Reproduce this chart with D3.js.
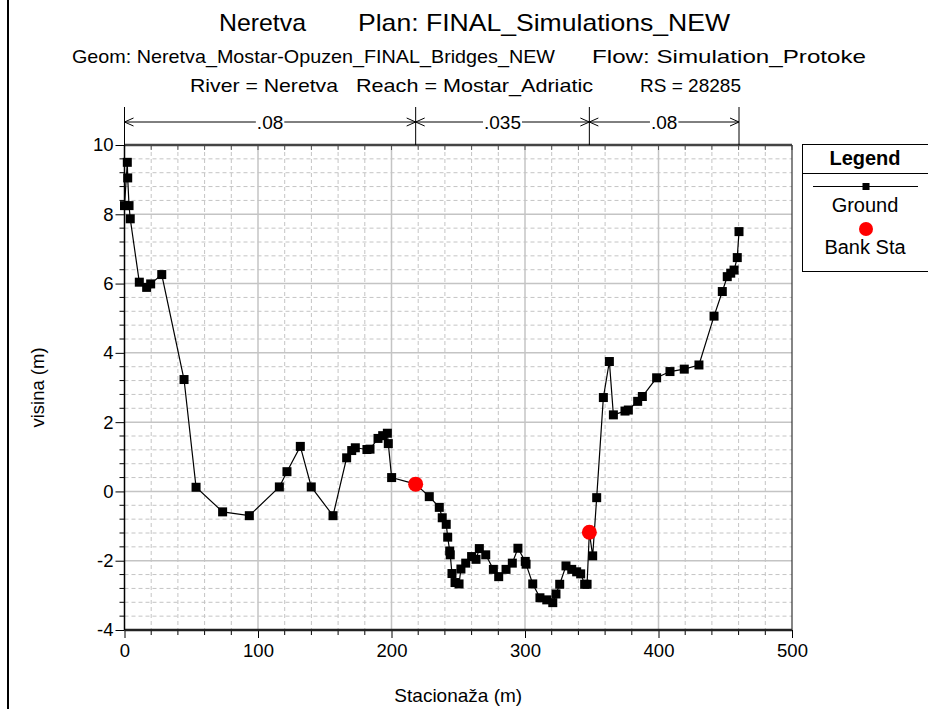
<!DOCTYPE html>
<html>
<head>
<meta charset="utf-8">
<script src="https://cdn.jsdelivr.net/npm/d3@7"></script>
<style>
  body { margin: 0; background: #fff; }
  text { font-family: "Liberation Sans", Arial, sans-serif; fill: #000; }
</style>
</head>
<body>
<svg id="chart"></svg>
<script>
// SVG size params
var width = 928;
var height = 709;

// Ground profile (station m, elevation m)
var stations = [0, 2.1, 2.4, 3.4, 4.3, 11.1, 16.6, 19.6, 27.9, 44.6, 53.6, 73.5, 93.5, 116, 121.7,
  131.7, 139.9, 156.2, 166.4, 170.2, 172.9, 181.6, 183.9, 189.9, 193.4, 196.9, 197.6, 200.1, 218.1,
  228.3, 235.8, 238, 241, 242.1, 243.6, 244, 245.3, 247.6, 250.6, 252, 255.6, 260, 263.3, 265.8,
  270.6, 276.3, 280.3, 285.8, 290.5, 294.7, 300.2, 300.8, 305.8, 311.2, 316.3, 320.8, 323.2, 326,
  330.7, 335, 338.7, 341.7, 344.7, 346.5, 348.2, 350.7, 353.7, 358.7, 363.2, 366.2, 374.9, 377.4,
  384.4, 387.9, 398.6, 408.6, 419.3, 430.3, 441.6, 447.8, 451.5, 454.1, 456.6, 459, 460.3];
var elevations = [8.25, 9.5, 9.05, 8.25, 7.87, 6.04, 5.89, 5.99, 6.26, 3.23, 0.12, -0.59, -0.70, 0.13, 0.57,
  1.30, 0.13, -0.70, 0.97, 1.18, 1.26, 1.21, 1.22, 1.53, 1.61, 1.68, 1.38, 0.40, 0.21,
  -0.15, -0.46, -0.76, -0.95, -1.32, -1.72, -1.83, -2.37, -2.63, -2.67, -2.24, -2.07, -1.88, -1.96, -1.65,
  -1.83, -2.25, -2.46, -2.25, -2.07, -1.64, -2.02, -2.10, -2.67, -3.07, -3.13, -3.21, -2.96, -2.68,
  -2.15, -2.25, -2.32, -2.38, -2.68, -2.68, -1.18, -1.86, -0.18, 2.71, 3.75, 2.21, 2.32, 2.35,
  2.60, 2.74, 3.28, 3.46, 3.53, 3.65, 5.06, 5.77, 6.20, 6.30, 6.39, 6.75, 7.50];

// Bank stations
var bankStations = [218.1, 348.2];
var bankElevations = [0.21, -1.18];

// Manning's n regions
var manningBreaks = [0, 218.1, 348.2, 460.3];
var manningValues = [".08", ".035", ".08"];

// Tick values
var xTicks = [0, 100, 200, 300, 400, 500];
var yTicks = [-4, -2, 0, 2, 4, 6, 8, 10];

// Title pieces: text, start x, end x, baseline, size
var titleParts = [
  { text: "Neretva", x0: 219, x1: 306, y: 31, size: 24 },
  { text: "Plan: FINAL_Simulations_NEW", x0: 358, x1: 730, y: 31, size: 24 },
  { text: "Geom: Neretva_Mostar-Opuzen_FINAL_Bridges_NEW", x0: 72, x1: 555, y: 63, size: 19 },
  { text: "Flow: Simulation_Protoke", x0: 592, x1: 866, y: 63, size: 19 },
  { text: "River = Neretva", x0: 190, x1: 338, y: 92, size: 19 },
  { text: "Reach = Mostar_Adriatic", x0: 356, x1: 593, y: 92, size: 19 },
  { text: "RS = 28285", x0: 640, x1: 741, y: 92, size: 19 }
];

var margin = { left: 124.5, right: 792, top: 145, bottom: 630 };

var svg = d3.select("#chart")
  .attr("width", width)
  .attr("height", height);

svg.append("rect").attr("width", width).attr("height", height).attr("fill", "#fff");

// Left frame line
svg.append("line")
  .attr("x1", 8).attr("x2", 8).attr("y1", 0).attr("y2", height)
  .attr("stroke", "#000").attr("stroke-width", 2);

var x = d3.scaleLinear().domain([0, 500]).range([margin.left, margin.right]);
var y = d3.scaleLinear().domain([-4, 10]).range([margin.bottom, margin.top]);

// Gridlines: minor dashed, major solid
var grid = svg.append("g").attr("id", "grid");
var xMinor = d3.range(20, 500, 20).filter(d => d % 100 !== 0);
var yMinor = d3.range(0, 35).map(i => -4 + i * 0.4).filter(d => Math.abs(d / 2 - Math.round(d / 2)) > 0.01);

grid.selectAll(".xminor").data(xMinor).enter().append("line")
  .attr("x1", d => x(d)).attr("x2", d => x(d))
  .attr("y1", margin.top).attr("y2", margin.bottom)
  .attr("stroke", "#c4c4c4").attr("stroke-dasharray", "4,3");
grid.selectAll(".yminor").data(yMinor).enter().append("line")
  .attr("x1", margin.left).attr("x2", margin.right)
  .attr("y1", d => y(d)).attr("y2", d => y(d))
  .attr("stroke", "#c4c4c4").attr("stroke-dasharray", "4,3");
grid.selectAll(".xmajor").data(xTicks.slice(1, -1)).enter().append("line")
  .attr("x1", d => x(d)).attr("x2", d => x(d))
  .attr("y1", margin.top).attr("y2", margin.bottom)
  .attr("stroke", "#c4c4c4").attr("stroke-width", 1.5);
grid.selectAll(".ymajor").data(yTicks.slice(1, -1)).enter().append("line")
  .attr("x1", margin.left).attr("x2", margin.right)
  .attr("y1", d => y(d)).attr("y2", d => y(d))
  .attr("stroke", "#c4c4c4").attr("stroke-width", 1.5);

// Axes (plain hyphen for negatives)
var fmt = d => String(d);
var xAxis = d3.axisBottom(x).tickValues(xTicks).tickFormat(fmt).tickSize(8).tickPadding(5);
var yAxis = d3.axisLeft(y).tickValues(yTicks).tickFormat(fmt).tickSize(9).tickPadding(2);

var gx = svg.append("g").attr("transform", "translate(0," + margin.bottom + ")").call(xAxis);
var gy = svg.append("g").attr("transform", "translate(" + margin.left + ",0)").call(yAxis);
[gx, gy].forEach(function(g) {
  g.select(".domain").remove();
  g.selectAll("text").style("font-size", "18.5px").style("font-family", "'Liberation Sans', Arial, sans-serif");
});
gx.selectAll("text").attr("y", 14);

// Minor ticks
svg.append("g").selectAll("line").data(xMinor).enter().append("line")
  .attr("x1", d => x(d)).attr("x2", d => x(d))
  .attr("y1", margin.bottom).attr("y2", margin.bottom + 5).attr("stroke", "#000");
svg.append("g").selectAll("line").data(xMinor.concat(xTicks)).enter().append("line")
  .attr("x1", d => x(d)).attr("x2", d => x(d))
  .attr("y1", margin.top).attr("y2", margin.top + 5).attr("stroke", "#555");
svg.append("g").selectAll("line").data(yMinor).enter().append("line")
  .attr("x1", margin.left - 5).attr("x2", margin.left)
  .attr("y1", d => y(d)).attr("y2", d => y(d)).attr("stroke", "#000");

// Plot frame
svg.append("line").attr("x1", margin.left).attr("x2", margin.right)
  .attr("y1", margin.top).attr("y2", margin.top).attr("stroke", "#444").attr("stroke-width", 2.5);
svg.append("line").attr("x1", margin.left).attr("x2", margin.right)
  .attr("y1", margin.bottom).attr("y2", margin.bottom).attr("stroke", "#222").attr("stroke-width", 2.5);
svg.append("line").attr("x1", margin.left).attr("x2", margin.left)
  .attr("y1", margin.top).attr("y2", margin.bottom).attr("stroke", "#000").attr("stroke-width", 1.5);
svg.append("line").attr("x1", margin.right).attr("x2", margin.right)
  .attr("y1", margin.top).attr("y2", margin.bottom).attr("stroke", "#333").attr("stroke-width", 1.2);

// Ground line and markers
var ground = stations.map((s, i) => [s, elevations[i]]);
var line = d3.line().x(d => x(d[0])).y(d => y(d[1]));
svg.append("path").datum(ground)
  .attr("d", line).attr("fill", "none").attr("stroke", "#000").attr("stroke-width", 1.2);
svg.append("g").selectAll("rect").data(ground).enter().append("rect")
  .attr("x", d => x(d[0]) - 4.5).attr("y", d => y(d[1]) - 4.5)
  .attr("width", 9).attr("height", 9).attr("fill", "#000");

// Bank stations
svg.append("g").selectAll("circle").data(bankStations).enter().append("circle")
  .attr("cx", d => x(d)).attr("cy", (d, i) => y(bankElevations[i]))
  .attr("r", 7.5).attr("fill", "#ff0000");

// Manning's n annotation
var man = svg.append("g").attr("id", "manning");
var arrowY = 122;
man.selectAll("line.sep").data(manningBreaks).enter().append("line")
  .attr("x1", d => x(d)).attr("x2", d => x(d))
  .attr("y1", 107).attr("y2", margin.top).attr("stroke", "#000");
manningValues.forEach(function(v, i) {
  var x0 = x(manningBreaks[i]), x1 = x(manningBreaks[i + 1]);
  var mid = (x0 + x1) / 2;
  var t = man.append("text").attr("x", mid).attr("y", arrowY + 7)
    .attr("text-anchor", "middle").style("font-size", "19px").text(v);
  var w = t.node().getComputedTextLength();
  man.append("line").attr("x1", x0).attr("x2", mid - w / 2 - 1)
    .attr("y1", arrowY).attr("y2", arrowY).attr("stroke", "#000");
  man.append("line").attr("x1", mid + w / 2 + 1).attr("x2", x1)
    .attr("y1", arrowY).attr("y2", arrowY).attr("stroke", "#000");
  man.append("path")
    .attr("d", "M" + (x0 + 9) + "," + (arrowY - 4) + "L" + x0 + "," + arrowY + "L" + (x0 + 9) + "," + (arrowY + 4))
    .attr("fill", "none").attr("stroke", "#000");
  man.append("path")
    .attr("d", "M" + (x1 - 9) + "," + (arrowY - 4) + "L" + x1 + "," + arrowY + "L" + (x1 - 9) + "," + (arrowY + 4))
    .attr("fill", "none").attr("stroke", "#000");
});

// Titles
svg.append("g").selectAll("text").data(titleParts).enter().append("text")
  .attr("x", d => d.x0).attr("y", d => d.y)
  .attr("textLength", d => d.x1 - d.x0).attr("lengthAdjust", "spacingAndGlyphs")
  .style("font-size", d => d.size + "px")
  .text(d => d.text);

// Axis labels
svg.append("text").attr("x", x(250)).attr("y", 702)
  .attr("text-anchor", "middle").style("font-size", "19px").text("Stacionaža (m)");
svg.append("text").attr("transform", "translate(44," + y(3) + ") rotate(-90)")
  .attr("text-anchor", "middle").style("font-size", "18.5px").text("visina (m)");

// Legend
var legend = svg.append("g").attr("id", "legend");
legend.append("rect").attr("x", 802.5).attr("y", 144.5).attr("width", 140).attr("height", 127)
  .attr("fill", "#fff").attr("stroke", "#000");
legend.append("line").attr("x1", 802.5).attr("x2", 928).attr("y1", 173.5).attr("y2", 173.5).attr("stroke", "#000");
legend.append("text").attr("x", 865).attr("y", 165).attr("text-anchor", "middle")
  .style("font-size", "20px").style("font-weight", "bold").text("Legend");
legend.append("line").attr("x1", 813).attr("x2", 918).attr("y1", 186.5).attr("y2", 186.5).attr("stroke", "#000");
legend.append("rect").attr("x", 862.5).attr("y", 183).attr("width", 7).attr("height", 7).attr("fill", "#000");
legend.append("text").attr("x", 865).attr("y", 212).attr("text-anchor", "middle")
  .style("font-size", "20px").text("Ground");
legend.append("circle").attr("cx", 866).attr("cy", 229).attr("r", 7).attr("fill", "#ff0000");
legend.append("text").attr("x", 865).attr("y", 254).attr("text-anchor", "middle")
  .style("font-size", "20px").text("Bank Sta");
</script>
</body>
</html>
